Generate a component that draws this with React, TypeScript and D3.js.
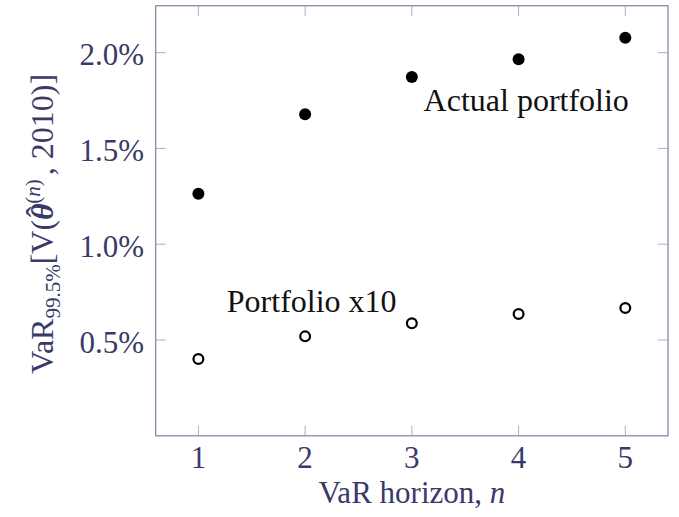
import React from 'react';
import * as d3 from 'd3';

// VaR horizon n
const horizons = [1, 2, 3, 4, 5];
// VaR 99.5% in percent, actual portfolio (filled marks)
const actualVaR = [1.264, 1.678, 1.873, 1.965, 2.078];
// VaR 99.5% in percent, portfolio x10 (open marks)
const scaledVaR = [0.401, 0.519, 0.587, 0.636, 0.667];
const yTicks = [0.5, 1.0, 1.5, 2.0];

const W = 679, H = 517;
const left = 155.7, right = 668, top = 5.7, bottom = 435.8;
const font = '"Liberation Serif", "Times New Roman", serif';
const textColor = '#3a3a68';
const axisColor = '#8a8aa8';
const tickColor = '#b0b0b0';

export default function App() {
  const x = d3.scaleLinear().domain([0.6, 5.4]).range([left, right]);
  const y = d3.scaleLinear().domain([0, 2.245]).range([bottom, top]);
  const tickLen = 10;

  return (
    <svg width={W} height={H} style={{ position: 'absolute', left: 0, top: 0, background: '#fff' }}
      fontFamily={font}>
      {/* ticks inside the box on all sides */}
      {horizons.map(h => (
        <g key={'xt' + h} stroke={tickColor} strokeWidth={1}>
          <line x1={x(h)} x2={x(h)} y1={bottom} y2={bottom - tickLen} />
          <line x1={x(h)} x2={x(h)} y1={top} y2={top + tickLen} />
        </g>
      ))}
      {yTicks.map(v => (
        <g key={'yt' + v} stroke={tickColor} strokeWidth={1}>
          <line x1={left} x2={left + tickLen} y1={y(v)} y2={y(v)} />
          <line x1={right} x2={right - tickLen} y1={y(v)} y2={y(v)} />
        </g>
      ))}
      <rect x={left} y={top} width={right - left} height={bottom - top}
        fill="none" stroke={axisColor} strokeWidth={1.3} />

      {/* tick labels */}
      {horizons.map(h => (
        <text key={'xl' + h} x={x(h)} y={468} textAnchor="middle" fontSize={31} fill={textColor}>
          {h}
        </text>
      ))}
      {yTicks.map(v => (
        <text key={'yl' + v} x={144} y={y(v) + 12.5} textAnchor="end" fontSize={31} fill={textColor}>
          {v.toFixed(1) + '%'}
        </text>
      ))}

      {/* axis titles */}
      <text x={(left + right) / 2} y={503} textAnchor="middle" fontSize={31} fill={textColor}>
        VaR horizon, <tspan fontStyle="italic">n</tspan>
      </text>
      <text transform={`translate(53,${(top + bottom) / 2 + 3}) rotate(-90)`} textAnchor="middle"
        fontSize={32} fill={textColor}>
        VaR
        <tspan fontSize={21} dy={7}>99.5%</tspan>
        <tspan dy={-7}>[V(</tspan>
        <tspan fontStyle="italic" fontWeight="bold">{'\u03B8'}</tspan>
        <tspan dx={-14} dy={-5}>{'\u02C6'}</tspan>
        <tspan fontSize={21} dx={3} dy={-8}>(</tspan>
        <tspan fontSize={21} fontStyle="italic">n</tspan>
        <tspan fontSize={21}>)</tspan>
        <tspan dx={4} dy={13}>, 2010)]</tspan>
      </text>

      {/* data marks */}
      {horizons.map((h, i) => (
        <circle key={'a' + h} cx={x(h)} cy={y(actualVaR[i])} r={6} fill="#000" />
      ))}
      {horizons.map((h, i) => (
        <circle key={'s' + h} cx={x(h)} cy={y(scaledVaR[i])} r={4.9} fill="#fff"
          stroke="#000" strokeWidth={2.2} />
      ))}

      {/* annotations */}
      <text x={x(3.11)} y={y(1.697)} fontSize={32} fill="#111">Actual portfolio</text>
      <text x={x(1.266)} y={y(0.645)} fontSize={32} fill="#111">Portfolio x10</text>
    </svg>
  );
}
